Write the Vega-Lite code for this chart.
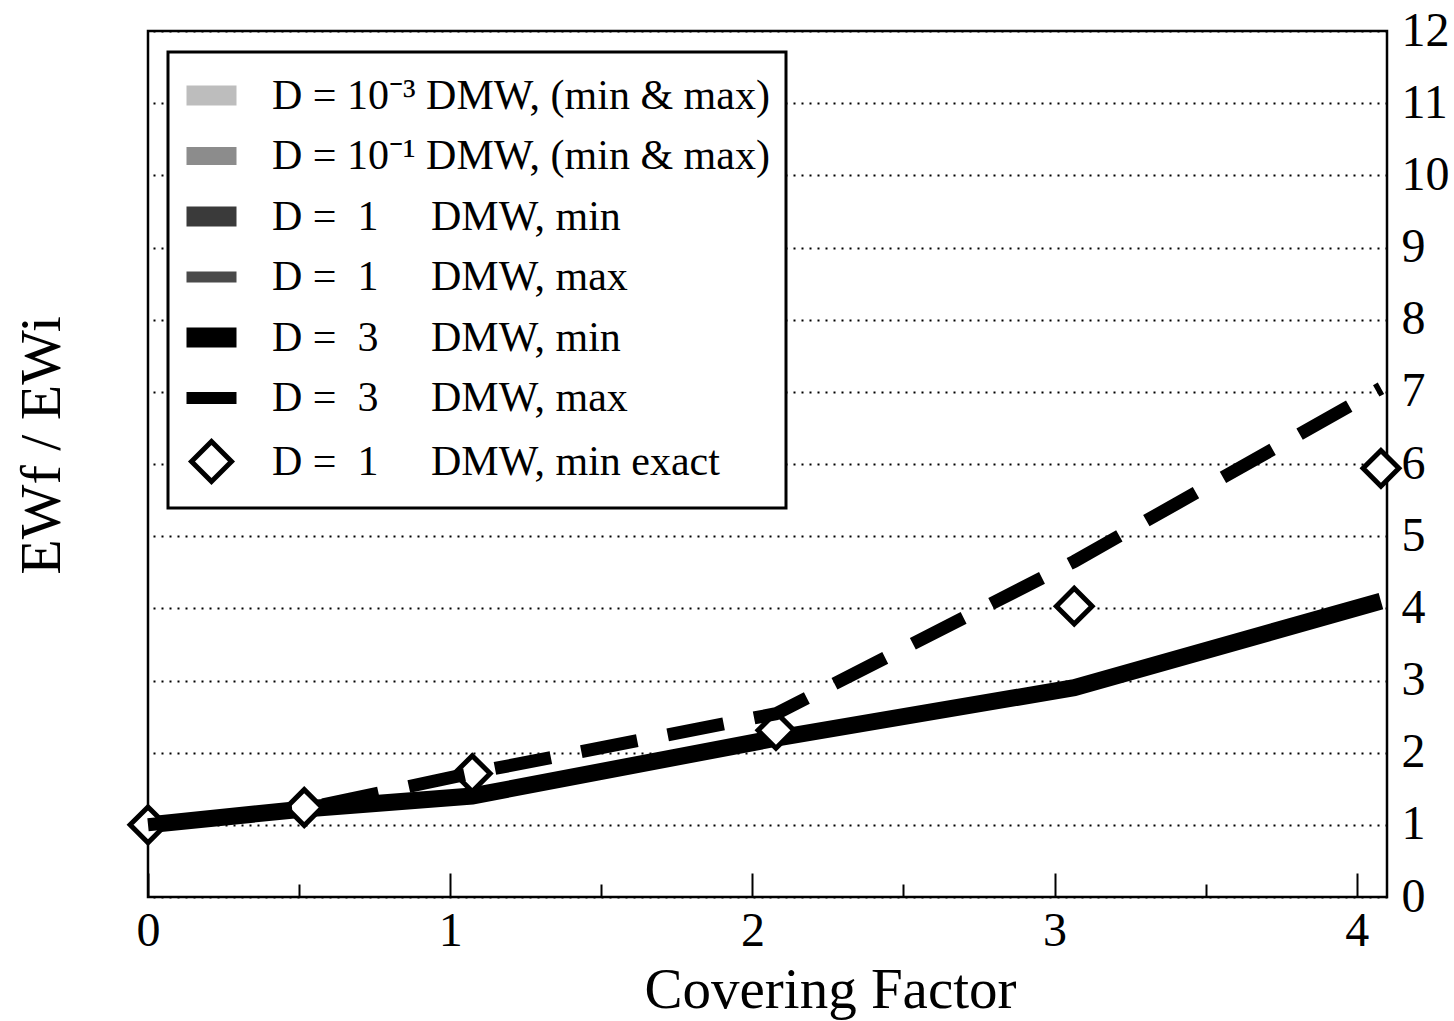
{
  "$schema": "https://vega.github.io/schema/vega-lite/v6.json",
  "width": 1239,
  "height": 866,
  "autosize": {"type": "none"},
  "padding": {"left": 148, "top": 31, "right": 67, "bottom": 124},
  "background": "white",
  "config": {
    "view": {"stroke": "black", "strokeWidth": 2.5},
    "font": "Liberation Serif",
    "legend": {"strokeWidth": 3}
  },
  "data": {
    "values": [
      {"series": "D = 3 DMW, min", "x": 0, "y": 1.0},
      {"series": "D = 3 DMW, min", "x": 0.517, "y": 1.22},
      {"series": "D = 3 DMW, min", "x": 1.073, "y": 1.40},
      {"series": "D = 3 DMW, min", "x": 2.078, "y": 2.2},
      {"series": "D = 3 DMW, min", "x": 3.065, "y": 2.9},
      {"series": "D = 3 DMW, min", "x": 4.08, "y": 4.1},
      {"series": "D = 3 DMW, max", "x": 0, "y": 1.0},
      {"series": "D = 3 DMW, max", "x": 0.517, "y": 1.22},
      {"series": "D = 3 DMW, max", "x": 1.073, "y": 1.72},
      {"series": "D = 3 DMW, max", "x": 2.078, "y": 2.54},
      {"series": "D = 3 DMW, max", "x": 3.065, "y": 4.65},
      {"series": "D = 3 DMW, max", "x": 4.08, "y": 7.05},
      {"series": "D = 1 DMW, min exact", "x": 0, "y": 1.0},
      {"series": "D = 1 DMW, min exact", "x": 0.517, "y": 1.24},
      {"series": "D = 1 DMW, min exact", "x": 1.073, "y": 1.71},
      {"series": "D = 1 DMW, min exact", "x": 2.078, "y": 2.31},
      {"series": "D = 1 DMW, min exact", "x": 3.065, "y": 4.03},
      {"series": "D = 1 DMW, min exact", "x": 4.08, "y": 5.94}
    ]
  },
  "encoding": {
    "x": {
      "field": "x",
      "type": "quantitative",
      "scale": {"domain": [0, 4.1], "nice": false, "zero": false},
      "axis": {
        "values": [0, 0.5, 1, 1.5, 2, 2.5, 3, 3.5, 4],
        "labelExpr": "datum.value % 1 === 0 ? '' + datum.value : ''",
        "tickSize": {"condition": {"test": "datum.value % 1 === 0", "value": -24}, "value": -13},
        "tickColor": "black",
        "tickWidth": 2,
        "domain": false,
        "grid": false,
        "labelFont": "Liberation Serif",
        "labelFontSize": 48,
        "labelColor": "black",
        "labelBaseline": "alphabetic",
        "labelPadding": 72,
        "labelFlush": false,
        "labelOverlap": false,
        "title": "Covering Factor",
        "titleFont": "Liberation Serif",
        "titleFontSize": 57,
        "titleFontWeight": "normal",
        "titleColor": "black",
        "titleX": 682,
        "titleY": 110,
        "titleAlign": "center",
        "titleBaseline": "alphabetic"
      }
    },
    "y": {
      "field": "y",
      "type": "quantitative",
      "scale": {"domain": [0, 12], "nice": false, "zero": false},
      "axis": {
        "orient": "right",
        "values": [0, 1, 2, 3, 4, 5, 6, 7, 8, 9, 10, 11, 12],
        "ticks": false,
        "domain": false,
        "grid": true,
        "gridColor": "black",
        "gridDash": [2, 6],
        "gridWidth": 2,
        "gridOpacity": 1,
        "labelFont": "Liberation Serif",
        "labelFontSize": 48,
        "labelColor": "black",
        "labelAlign": "left",
        "labelBaseline": "middle",
        "labelPadding": 14,
        "labelFlush": false,
        "labelOverlap": false,
        "title": "EWf / EWi",
        "titleFont": "Liberation Serif",
        "titleFontSize": 58,
        "titleFontWeight": "normal",
        "titleColor": "black",
        "titleAngle": 270,
        "titleX": -1328,
        "titleY": 414,
        "titleAlign": "center",
        "titleBaseline": "alphabetic"
      }
    }
  },
  "layer": [
    {
      "transform": [{"filter": "datum.series === 'D = 3 DMW, min'"}],
      "mark": {"type": "line", "color": "black", "strokeWidth": 17, "strokeCap": "butt", "strokeJoin": "miter"},
      "encoding": {}
    },
    {
      "transform": [{"filter": "datum.series === 'D = 1 DMW, min exact'"}],
      "mark": {"type": "point", "filled": true, "strokeWidth": 5, "size": 2000, "opacity": 1},
      "encoding": {
        "fill": {
          "field": "series",
          "type": "nominal",
          "scale": {
            "domain": [
              "D = 10⁻³ DMW, (min & max)",
              "D = 10⁻¹ DMW, (min & max)",
              "D = 1 DMW, min",
              "D = 1 DMW, max",
              "D = 3 DMW, min",
              "D = 3 DMW, max",
              "D = 1 DMW, min exact"
            ],
            "range": ["#bdbdbd", "#8c8c8c", "#3a3a3a", "#4a4a4a", "#000000", "#000000", "#ffffff"]
          },
          "legend": {
            "title": null,
            "orient": "none",
            "legendX": 20,
            "legendY": 21,
            "direction": "vertical",
            "fillColor": "white",
            "strokeColor": "black",
            "padding": 16,
            "rowPadding": 11.5,
            "labelFont": "Liberation Serif",
            "labelFontSize": 42,
            "labelColor": "black",
            "labelLimit": 2000,
            "labelOffset": 33,
            "symbolSize": 2500,
            "symbolStrokeWidth": 5,
            "symbolOpacity": 1,
            "labelExpr": "replace(datum.label, regexp('= ([13]) D'), '=\u00a0\u00a0$1\u00a0\u00a0\u00a0\u00a0\u00a0D')"
          }
        },
        "stroke": {
          "field": "series",
          "type": "nominal",
          "scale": {
            "domain": [
              "D = 10⁻³ DMW, (min & max)",
              "D = 10⁻¹ DMW, (min & max)",
              "D = 1 DMW, min",
              "D = 1 DMW, max",
              "D = 3 DMW, min",
              "D = 3 DMW, max",
              "D = 1 DMW, min exact"
            ],
            "range": ["transparent", "transparent", "transparent", "transparent", "transparent", "transparent", "#000000"]
          },
          "legend": {
            "title": null,
            "orient": "none",
            "legendX": 20,
            "legendY": 21,
            "direction": "vertical",
            "fillColor": "white",
            "strokeColor": "black",
            "padding": 16,
            "rowPadding": 11.5,
            "labelFont": "Liberation Serif",
            "labelFontSize": 42,
            "labelColor": "black",
            "labelLimit": 2000,
            "labelOffset": 33,
            "symbolSize": 2500,
            "symbolStrokeWidth": 5,
            "symbolOpacity": 1,
            "labelExpr": "replace(datum.label, regexp('= ([13]) D'), '=\u00a0\u00a0$1\u00a0\u00a0\u00a0\u00a0\u00a0D')"
          }
        },
        "shape": {
          "field": "series",
          "type": "nominal",
          "scale": {
            "domain": [
              "D = 10⁻³ DMW, (min & max)",
              "D = 10⁻¹ DMW, (min & max)",
              "D = 1 DMW, min",
              "D = 1 DMW, max",
              "D = 3 DMW, min",
              "D = 3 DMW, max",
              "D = 1 DMW, min exact"
            ],
            "range": [
              "M-1,-0.4L1,-0.4L1,0.4L-1,0.4Z",
              "M-1,-0.36L1,-0.36L1,0.36L-1,0.36Z",
              "M-1,-0.4L1,-0.4L1,0.4L-1,0.4Z",
              "M-1,-0.22L1,-0.22L1,0.22L-1,0.22Z",
              "M-1,-0.4L1,-0.4L1,0.4L-1,0.4Z",
              "M-1,-0.24L1,-0.24L1,0.24L-1,0.24Z",
              "M-0.8,0L0,-0.8L0.8,0L0,0.8Z"
            ]
          },
          "legend": {
            "title": null,
            "orient": "none",
            "legendX": 20,
            "legendY": 21,
            "direction": "vertical",
            "fillColor": "white",
            "strokeColor": "black",
            "padding": 16,
            "rowPadding": 11.5,
            "labelFont": "Liberation Serif",
            "labelFontSize": 42,
            "labelColor": "black",
            "labelLimit": 2000,
            "labelOffset": 33,
            "symbolSize": 2500,
            "symbolStrokeWidth": 5,
            "symbolOpacity": 1,
            "labelExpr": "replace(datum.label, regexp('= ([13]) D'), '=\u00a0\u00a0$1\u00a0\u00a0\u00a0\u00a0\u00a0D')"
          }
        }
      }
    },
    {
      "transform": [{"filter": "datum.series === 'D = 3 DMW, max'"}],
      "mark": {"type": "line", "color": "black", "strokeWidth": 13, "strokeCap": "butt", "strokeDash": [57, 31]},
      "encoding": {}
    }
  ]
}
